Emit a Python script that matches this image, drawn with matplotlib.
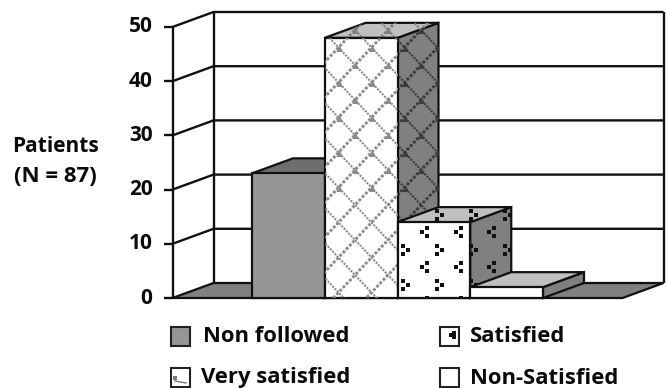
import numpy as np
import matplotlib
matplotlib.use('Agg')
import matplotlib.pyplot as plt
from matplotlib.patches import Polygon, Rectangle

categories = ['Non followed', 'Very satisfied', 'Satisfied', 'Non-Satisfied']
patients = [23, 48, 14, 2]
y_ticks = [0, 10, 20, 30, 40, 50]

# pixel layout of the fake 3d box
X0 = 252.0
BAR_W = 72.75
Y0 = 298.0
PER_UNIT = 5.42
DX = 41 / BAR_W
DY = 15 / PER_UNIT
LEFT = (172.5 - X0) / BAR_W
RIGHT = (622.5 - X0) / BAR_W

plt.rcParams['font.family'] = ['Open Sans', 'DejaVu Sans']
plt.rcParams['font.weight'] = 'bold'

fig = plt.figure(figsize=(6.66, 3.88), dpi=100)
ax = fig.add_axes([0, 0, 1, 1])
ax.set_xlim(-X0 / BAR_W, (666 - X0) / BAR_W)
ax.set_ylim((Y0 - 388) / PER_UNIT, Y0 / PER_UNIT)
ax.axis('off')


def to_data(px, py):
    return (np.asarray(px) - X0) / BAR_W, (Y0 - np.asarray(py)) / PER_UNIT


def face(points, color, z):
    p = Polygon(points, closed=True, facecolor=color, edgecolor='#111111', linewidth=1.6, zorder=z, joinstyle='miter')
    ax.add_patch(p)
    return p


def lattice(patch, color, z):
    # diagonal stair-like lines in the bar fill, rising ones heavier
    for k in range(-12, 30):
        for sign, width in ((1, 1.5), (-1, 2.1)):
            px = np.array([250.0, 500.0])
            py = 65 + sign * (px - 355) * 1.06 + k * 35
            x, y = to_data(px, py)
            ln, = ax.plot(x, y, color=color, lw=width, ls=(0, (1.0, 0.6)), zorder=z)
            ln.set_clip_path(patch)
    nx, ny = [], []
    for r in range(-2, 10):
        for c in range(-2, 6):
            nx.append(355 + c * 33 + (r % 2) * 16.5)
            ny.append(65 - 2 * 17.5 + r * 17.5)
    x, y = to_data(nx, ny)
    sc = ax.scatter(x, y, s=22, marker='^', color=color, linewidths=0, zorder=z)
    sc.set_clip_path(patch)


def dots(patch, color, z):
    xs, ys = [], []
    for r in range(-3, 6):
        for c in range(-1, 5):
            if r % 2 == 0:
                cx, cy = 425 + c * 33.5, 232 + r * 17.5
                off = [(2, -4), (-3, 0), (2, 4)]
            else:
                cx, cy = 405 + c * 34, 232 + r * 17.5
                off = [(-2, -4), (3, 0), (-2, 4)]
            for a, b in off:
                xs.append(cx + a)
                ys.append(cy + b)
    x, y = to_data(xs, ys)
    sc = ax.scatter(x, y, s=9, marker='s', color=color, linewidths=0, zorder=z)
    sc.set_clip_path(patch)


# walls
line_kw = dict(color='#111111', lw=1.7, solid_capstyle='butt', zorder=2)
for t in y_ticks[1:]:
    ax.plot([LEFT, LEFT + DX, RIGHT + DX], [t, t + DY, t + DY], **line_kw)
ax.plot([LEFT, LEFT], [0, 50], **line_kw)
ax.plot([LEFT + DX, LEFT + DX], [DY, 50 + DY], **line_kw)
ax.plot([RIGHT + DX, RIGHT + DX], [DY, 50 + DY], **line_kw)
face([(LEFT, 0), (LEFT + DX, DY), (RIGHT + DX, DY), (RIGHT, 0)], '#808080', 3)

# y ticks
for t in y_ticks:
    ax.plot([LEFT - 9 / BAR_W, LEFT], [t, t], **line_kw)
    ax.text(LEFT - 20 / BAR_W, t, str(t), ha='right', va='center', fontsize=15, color='#0a0a0a')

ax.text(*to_data(56, 147), 'Patients', ha='center', va='center', fontsize=15, color='#0a0a0a')
ax.text(*to_data(55, 177), '(N = 87)', ha='center', va='center', fontsize=16, color='#0a0a0a')

# bars
front_cols = ['#969696', 'white', 'white', 'white']
top_cols = ['#6e6e6e', '#c0c0c0', '#c0c0c0', '#c0c0c0']
side_cols = ['#6e6e6e', '#808080', '#808080', '#808080']
for i, v in enumerate(patients):
    z = 10 + i * 3
    side = face([(i + 1, 0), (i + 1 + DX, DY), (i + 1 + DX, v + DY), (i + 1, v)], side_cols[i], z)
    top = face([(i, v), (i + DX, v + DY), (i + 1 + DX, v + DY), (i + 1, v)], top_cols[i], z)
    front = face([(i, 0), (i, v), (i + 1, v), (i + 1, 0)], front_cols[i], z + 1)
    if i == 1:
        lattice(front, '#8c8c8c', z + 1.5)
        lattice(side, '#3c3c3c', z + 0.5)
        lattice(top, '#808080', z + 0.5)
    if i == 2:
        dots(front, '#111111', z + 1.5)
        dots(side, '#111111', z + 0.5)
        dots(top, '#111111', z + 0.5)

# legend
leg_x = [171, 171, 440, 440]
leg_y = [327, 368, 327, 368]
text_x = [203, 201, 470, 470]
leg_cols = ['#969696', 'white', 'white', 'white']
for name, lx, ly, tx, col in zip(categories, leg_x, leg_y, text_x, leg_cols):
    x, y = to_data(lx, ly + 19)
    ax.add_patch(Rectangle((x, y), 19 / BAR_W, 19 / PER_UNIT, facecolor=col, edgecolor='#222222', lw=1.5, zorder=5))
    ax.text(*to_data(tx, ly + 10), name, ha='left', va='center', fontsize=15.8, color='#0a0a0a')
    if name == 'Very satisfied':
        ax.plot(*to_data([175, 186], [381, 383]), color='#777777', lw=1, zorder=6)
        ax.scatter(*to_data(175, 378), s=5, marker='s', color='#777777', linewidths=0, zorder=6)
    if name == 'Satisfied':
        ax.scatter(*to_data([451, 454, 454], [335, 333, 337]), s=5, marker='s', color='#111111', linewidths=0, zorder=6)

fig.savefig('out.png', dpi=100)
